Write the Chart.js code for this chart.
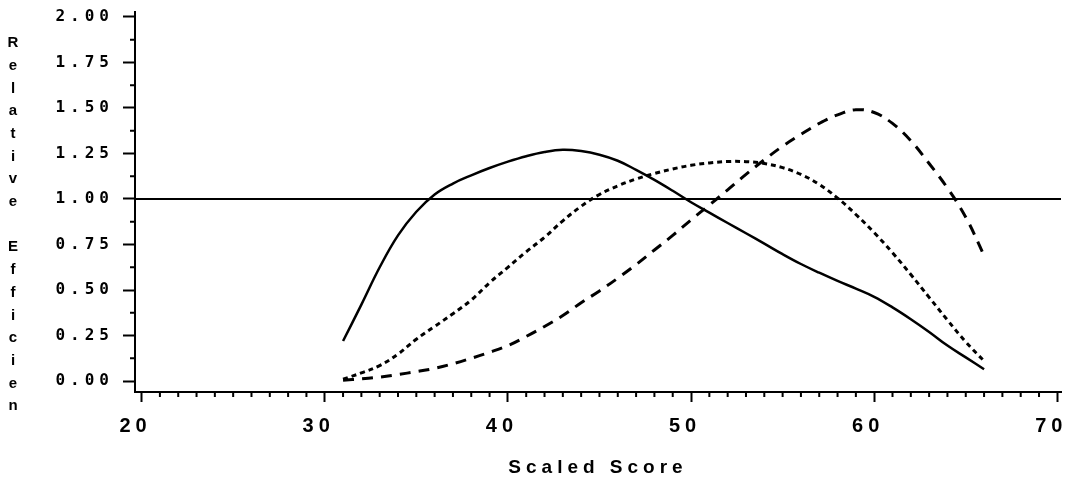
<!DOCTYPE html>
<html>
<head>
<meta charset="utf-8">
<script src="https://cdn.jsdelivr.net/npm/chart.js@4.4.1/dist/chart.umd.min.js"></script>
<style>
    body { margin: 0; background: #fff; }
    #box { width: 1065px; height: 485px; }
</style>
</head>
<body>
<div id="box"><canvas id="myChart"></canvas></div>
<script>
// scaled scores on the x axis
const scores = [31, 32, 33, 34, 35, 36, 37, 38, 39, 40, 41, 42, 43, 44, 45, 46, 47, 48,
    49, 50, 51, 52, 53, 54, 55, 56, 57, 58, 59, 60, 61, 62, 63, 64, 65, 66];

// relative efficiency
const solidCurve = [0.22, 0.42, 0.625, 0.80, 0.93, 1.025, 1.085, 1.13, 1.17, 1.205, 1.235, 1.258,
    1.27, 1.263, 1.243, 1.21, 1.16, 1.105, 1.045, 0.982, 0.925, 0.868, 0.812, 0.755, 0.697, 0.643,
    0.595, 0.55, 0.508, 0.463, 0.405, 0.34, 0.27, 0.195, 0.13, 0.065];
const dottedCurve = [0.01, 0.045, 0.085, 0.148, 0.23, 0.30, 0.37, 0.445, 0.54, 0.625, 0.71, 0.79,
    0.88, 0.96, 1.025, 1.072, 1.11, 1.14, 1.165, 1.185, 1.198, 1.206, 1.205, 1.195, 1.172, 1.135,
    1.08, 1.005, 0.915, 0.815, 0.705, 0.585, 0.46, 0.335, 0.215, 0.11];
const dashedCurve = [0.005, 0.012, 0.022, 0.036, 0.052, 0.07, 0.095, 0.125, 0.158, 0.195, 0.245, 0.30,
    0.36, 0.43, 0.495, 0.565, 0.64, 0.72, 0.80, 0.885, 0.967, 1.05, 1.135, 1.215, 1.29, 1.355,
    1.415, 1.462, 1.49, 1.475, 1.415, 1.32, 1.195, 1.06, 0.90, 0.69];

// the flat line at 1.00
const refLineX = [19.64, 70.2];
const refLineY = [1, 1];

const xTicks = [20, 30, 40, 50, 60, 70];
const yTicks = [0, 0.25, 0.5, 0.75, 1, 1.25, 1.5, 1.75, 2];
const yTitle = 'Relative Efficien';
const xTitle = 'Scaled Score';

function toPoints(xs, ys) {
    return xs.map((x, i) => ({ x: x, y: ys[i] }));
}

// spaced-out plotter lettering
const spacing = {
    id: 'spacing',
    beforeDraw(chart) {
        chart.ctx.letterSpacing = '5px';
    }
};

// minor ticks and the stacked y title
const extras = {
    id: 'extras',
    afterDraw(chart) {
        const { ctx, scales: { x, y } } = chart;
        ctx.save();
        ctx.strokeStyle = '#000';
        ctx.lineWidth = 2;
        ctx.beginPath();
        for (let v = Math.ceil(x.min); v <= x.max; v++) {
            if (v % 10 === 0) continue;
            const px = x.getPixelForValue(v);
            ctx.moveTo(px, x.top);
            ctx.lineTo(px, x.top + 5);
        }
        for (let v = 0.125; v < y.max; v += 0.25) {
            const py = y.getPixelForValue(v);
            ctx.moveTo(y.right, py);
            ctx.lineTo(y.right - 5, py);
        }
        ctx.stroke();

        ctx.fillStyle = '#000';
        ctx.font = 'bold 15px "Liberation Sans"';
        ctx.textAlign = 'center';
        ctx.textBaseline = 'middle';
        ctx.letterSpacing = '0px';
        for (let i = 0; i < yTitle.length; i++) {
            ctx.fillText(yTitle[i], 13, 43 + i * 22.7);
        }
        ctx.restore();
    }
};

const ctx = document.getElementById('myChart');

let cfg = {
    type: 'line',
    data: {
        datasets: [{
            data: toPoints(scores, solidCurve),
            borderColor: '#000',
            borderWidth: 2.5
        }, {
            data: toPoints(scores, dottedCurve),
            borderColor: '#000',
            borderWidth: 3,
            borderDash: [5, 4]
        }, {
            data: toPoints(scores, dashedCurve),
            borderColor: '#000',
            borderWidth: 3,
            borderDash: [11, 8]
        }, {
            data: toPoints(refLineX, refLineY),
            borderColor: '#000',
            borderWidth: 2,
            tension: 0
        }]
    },
    options: {
        responsive: true,
        maintainAspectRatio: false,
        animation: false,
        layout: { padding: { left: 0, right: 4, top: 12, bottom: 0 } },
        elements: {
            point: { radius: 0 },
            line: { tension: 0.4 }
        },
        plugins: {
            legend: { display: false },
            tooltip: { enabled: false }
        },
        scales: {
            x: {
                type: 'linear',
                min: 19.64,
                max: 70.2,
                afterBuildTicks: function (scale) {
                    scale.ticks = xTicks.map(v => ({ value: v }));
                },
                afterFit: function (scale) {
                    scale.height = 93;
                    scale.paddingLeft = 0;
                    scale.paddingRight = 0;
                },
                grid: {
                    drawOnChartArea: false,
                    tickLength: 10,
                    tickColor: '#000',
                    tickWidth: 2
                },
                border: { color: '#000', width: 2 },
                ticks: {
                    color: '#000',
                    padding: 12,
                    labelOffset: -6,
                    maxRotation: 0,
                    autoSkip: false,
                    font: { family: 'Liberation Sans', size: 20, weight: 'bold' },
                    callback: function (value) {
                        return String(value);
                    }
                },
                title: {
                    display: true,
                    text: xTitle,
                    color: '#000',
                    font: { family: 'Liberation Sans', size: 19, weight: 'bold' },
                    padding: { top: 0, bottom: 6 }
                }
            },
            y: {
                min: -0.06,
                max: 2.027,
                afterBuildTicks: function (scale) {
                    scale.ticks = yTicks.map(v => ({ value: v }));
                },
                afterFit: function (scale) {
                    scale.width = 135;
                    scale.paddingTop = 0;
                    scale.paddingBottom = 0;
                },
                grid: {
                    drawOnChartArea: false,
                    tickLength: 12,
                    tickColor: '#000',
                    tickWidth: 2
                },
                border: { color: '#000', width: 2 },
                ticks: {
                    color: '#000',
                    padding: 9,
                    autoSkip: false,
                    font: { family: 'DejaVu Sans Mono', size: 16, weight: 'bold' },
                    callback: function (value) {
                        return value.toFixed(2);
                    }
                }
            }
        }
    },
    plugins: [spacing, extras]
};

let myChart = new Chart(ctx, cfg);
</script>
</body>
</html>
